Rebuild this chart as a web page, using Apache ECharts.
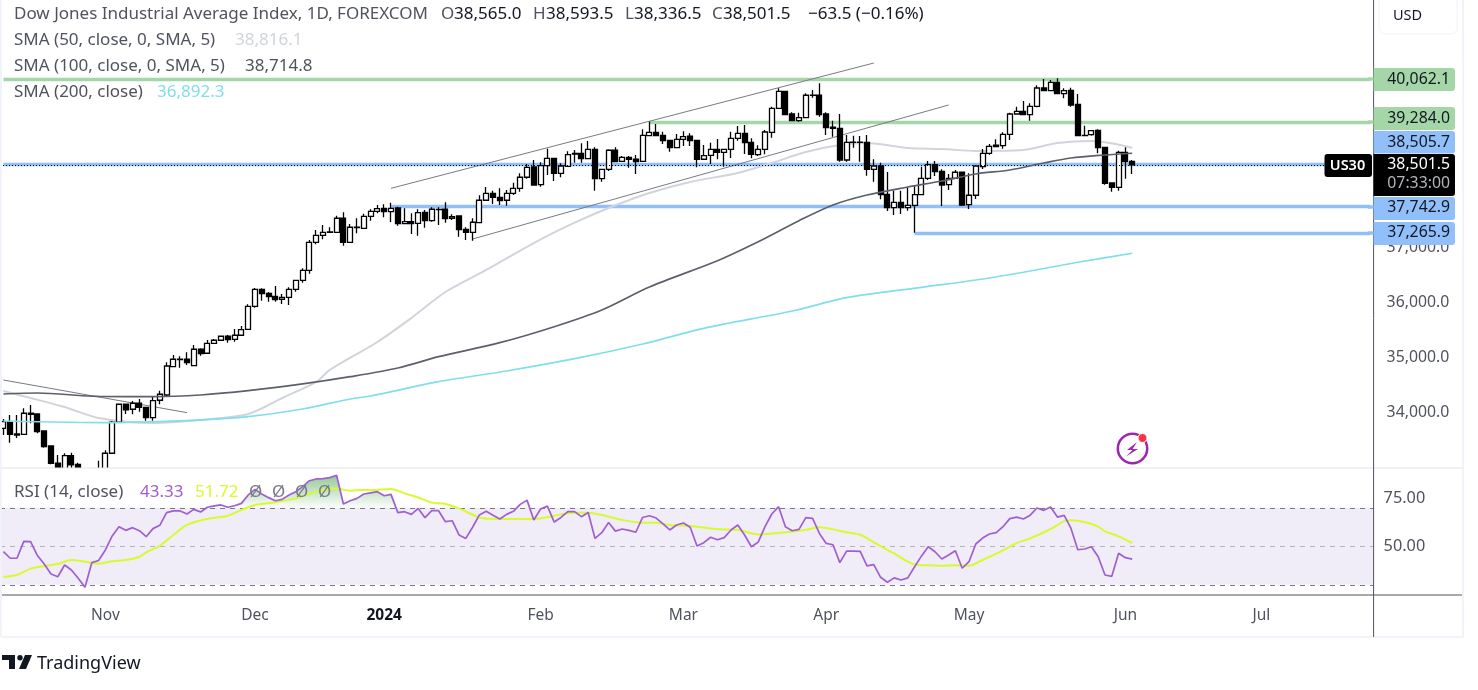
<!DOCTYPE html>
<html>
<head>
<meta charset="utf-8">
<title>Dow Jones Industrial Average Index</title>
<script src="https://cdn.jsdelivr.net/npm/echarts@6/dist/echarts.min.js"></script>
<style>
  html, body { margin: 0; padding: 0; background: #fff; }
  #chart { width: 1478px; height: 690px; }
</style>
</head>
<body>
<div id="chart"></div>
<script>
// daily candles (bars 8-15 sit partly behind the RSI pane)
const opens = [
  33703,33824,33599,33594,33977,33964,33654,33381,33066,32798,
  33204,33047,32900,32700,32920,32950,33248,33813,34141,34050,
  34159,34086,33897,34214,34310,34826,34957,34961,34844,35143,
  35070,35252,35307,35380,35325,35398,35507,35926,36236,36163,
  36108,36054,36090,36236,36400,36582,37092,37220,37274,37274,
  37530,37092,37362,37347,37566,37657,37712,37650,37717,37431,
  37468,37438,37639,37486,37690,37694,37530,37571,37329,37274,
  37449,37858,37985,37912,37858,37985,38076,38277,38464,38142,
  38488,38623,38349,38477,38714,38714,38616,38787,38251,38422,
  38769,38568,38641,38605,38568,39035,39096,39042,38951,38816,
  38969,39024,38951,38605,38677,38787,38732,38787,38987,39078,
  38914,38688,38787,39096,39534,39843,39430,39308,39362,39775,
  39775,39430,39188,39169,38592,38912,38916,38914,38422,38482,
  37967,37723,37821,37723,37766,37959,38258,38506,38386,38142,
  38258,38368,37777,37949,38470,38714,38860,38852,39060,39430,
  39479,39417,39570,39904,39854,40007,39800,39862,39607,39042,
  39053,39133,38823,38173,38094,38732,38565
];
const closes = [
  33824,33594,33581,33977,33959,33641,33368,33066,32798,33204,
  33035,32907,32700,32900,32960,33248,33813,34141,34037,34159,
  34086,33897,34206,34323,34838,34961,34965,34899,35143,35063,
  35252,35307,35380,35318,35398,35500,35926,36236,36156,36101,
  36046,36090,36236,36400,36582,37092,37220,37274,37280,37530,
  37092,37366,37370,37566,37657,37704,37650,37712,37431,37468,
  37431,37632,37486,37694,37686,37522,37559,37322,37274,37457,
  37858,37985,37912,37850,37985,38076,38277,38459,38136,38488,
  38623,38349,38482,38688,38701,38616,38787,38251,38422,38769,
  38561,38641,38605,38561,39042,39096,39035,38943,38816,38969,
  39016,38943,38605,38670,38787,38732,38787,38987,39078,38907,
  38696,38787,39102,39534,39843,39417,39308,39362,39771,39770,
  39417,39180,39169,38592,38914,38916,38912,38422,38482,37959,
  37723,37821,37723,37766,37959,38258,38506,38379,38136,38258,
  38368,37772,37949,38482,38714,38841,38834,39060,39430,39479,
  39417,39570,39904,39854,40007,39800,39854,39594,39035,39038,
  39126,38816,38167,38094,38732,38561,38501.5
];
const highs = [
  33873,33946,33946,34068,34128,33977,33654,33394,33217,33248,
  33259,33077,32950,32960,33113,33302,33836,34146,34152,34201,
  34237,34090,34279,34388,34906,35039,35017,35088,35221,35161,
  35312,35330,35385,35403,35513,35567,35963,36260,36254,36187,
  36296,36150,36272,36405,36618,37134,37316,37407,37366,37577,
  37639,37426,37530,37613,37694,37772,37785,37814,37741,37712,
  37621,37694,37681,37730,37730,37821,37602,37575,37366,37530,
  37949,38100,38032,38076,38045,38178,38349,38519,38592,38550,
  38798,38628,38532,38750,38774,38896,38938,38823,38426,38787,
  38823,38665,38665,38683,39151,39290,39248,39107,38955,39066,
  39115,39078,38955,38865,38907,38974,38790,39107,39211,39230,
  38987,38860,39138,39563,39898,39847,39461,39454,39807,39867,
  39989,39461,39308,39430,39047,39035,39029,39047,38605,38543,
  38373,38032,38032,38094,38118,38470,38574,38574,38422,38337,
  38410,38379,38349,38486,38792,38883,38969,39096,39454,39563,
  39667,39625,39953,40068,40049,40080,39898,39909,39794,39217,
  39138,39151,38827,38178,38761,38823,38593.5
];
const lows = [
  33581,33441,33527,33581,33794,33612,33350,33047,32700,32700,
  32980,32850,32600,32600,32800,32900,33240,33810,33964,33959,
  34006,33842,33842,34141,34279,34820,34807,34857,34840,35026,
  35060,35250,35305,35263,35281,35395,35505,35901,36028,36010,
  36010,35968,35950,36192,36356,36520,37056,37147,37265,37270,
  37030,37088,37256,37340,37486,37621,37548,37462,37395,37425,
  37243,37213,37358,37468,37407,37449,37499,37194,37134,37121,
  37445,37855,37790,37772,37759,37954,38014,38251,38124,38105,
  38319,38209,38277,38470,38543,38543,38612,38032,38196,38391,
  38556,38564,38451,38337,38564,39030,39030,38883,38743,38805,
  38847,38847,38459,38592,38519,38605,38470,38628,38943,38701,
  38623,38665,38696,38998,39530,39413,39304,39290,39358,39727,
  39381,39047,39016,38561,38561,38816,38561,38306,38196,37876,
  37663,37590,37608,37668,37266,37955,38227,38300,37754,38045,
  38254,37754,37699,37881,38428,38688,38830,38798,38956,39425,
  39406,39308,39552,39850,39843,39794,39716,39563,39030,39029,
  39035,38714,38142,38014,38032,38251,38336.5
];

// moving averages: bar index and value, read at the bends of each line
const sma50Bars = [0,4,9,14,22,29,36,41,46,48,55,60,65,71,78,84,89,95,101,108,113,118,123,127,133,138,143,150,155,160,166];
const sma50Values = [34383,34255,34091,33891,33800,33855,33964,34255,34547,34766,35276,35713,36187,36588,37079,37449,37717,37990,38191,38355,38537,38737,38865,38901,38810,38792,38756,38774,38901,38938,38816.1];
const sma100Bars = [0,5,14,22,29,36,44,51,58,64,73,81,88,95,105,111,117,122,127,133,138,143,148,153,157,162,166];
const sma100Values = [34328,34346,34283,34279,34310,34388,34511,34643,34802,35008,35263,35554,35859,36278,36757,37103,37486,37772,37954,38100,38209,38337,38410,38537,38628,38683,38714.8];
const sma200Bars = [0,16,29,36,44,51,54,64,74,84,94,103,116,124,135,143,150,158,166];
const sma200Values = [33836,33805,33855,33915,34055,34237,34292,34552,34747,34971,35239,35525,35840,36083,36272,36405,36546,36728,36892.3];

// RSI (14) per bar, and its moving average read at the bends
const rsiValues = [
  47.2,43.8,43.8,52.6,52.4,45.2,40.8,35.6,34.2,40.3,37.7,33.4,28.7,41.5,42.6,48.1,55.4,60.2,58.3,59.7,
  58.1,55,59.2,60.9,67.5,68.4,68.4,66.8,69.2,67.8,70.3,71,71.5,70.3,71.1,72.3,76.7,79.6,77.2,75.3,
  73.7,74.4,76.7,78.4,81,84.1,85,85.2,85.7,86.9,72,73.7,74.9,77.2,77.8,78.4,76.3,77,67.5,68,
  66.6,69.7,64.9,68.5,68.5,62.8,63.3,55.9,54.1,59.9,66.3,68.2,66.1,64.2,66.6,68.2,71.8,74,63.7,69.4,
  70.9,62.6,65,68,68,65.4,67.6,54.1,57.1,62.4,57.9,59,58.3,57.3,65,65.9,64.7,61.7,58.5,61.1,
  62.1,59.9,50.2,51.9,54.7,53.4,54.5,58.5,61.1,55.9,49.8,52.2,60.2,66.8,70.6,60.2,58.1,58.8,64.9,64.5,
  56.7,51.5,50.8,41.5,47.5,47.5,47.4,39.8,40.5,33.9,31.3,33.6,32.5,33.6,39.4,44.9,49.8,47.2,43.4,45.5,
  47.7,38.6,42,51.2,54.3,56.4,57.1,60.2,64.4,65.2,64.2,66.2,69.9,68.7,70.4,65.2,66.1,59.3,48.2,48.6,
  49.8,44.6,35.1,34.4,46.4,44.1,43.33
];
const rsiMaBars = [0,2,4,6,8,10,12,14,16,18,20,21,23,25,27,30,33,35,37,40,43,45,47,49,51,53,54,57,59,61,63,65,67,70,72,76,79,82,84,86,89,91,94,96,98,101,104,106,108,111,113,115,118,120,122,124,126,128,130,131,133,134,136,138,140,142,144,147,149,151,154,156,157,159,161,162,164,166];
const rsiMaValues = [34.1,35.1,38.4,39.8,40.8,42.9,42,41,42.2,42.9,44.6,46.9,50.3,55.9,61.1,64.2,65.9,68.9,71.5,72.9,74.9,77.2,79.3,80,78.9,79.3,79.2,79.8,77.5,75.4,72.7,72,69.7,65,64.3,64.2,64.5,66.6,67.5,67.5,65.4,63.7,62.3,62.3,61.1,60.5,59.3,58.8,58.5,56.2,56.6,57.3,58.6,59.9,58.8,57.3,56,52.1,48.1,46.3,42,40.6,40.1,39.9,40.1,39.9,42.9,47.9,51.7,54.1,59,63.1,63.5,62.6,60.2,57.8,55.2,51.72];

// horizontal levels and drawn trend lines
const greenLevels = [40062.1, 39284.0];
const greenStartBars = [0, 95];
const blueLevels = [38505.7, 37742.9, 37265.9];
const blueStartBars = [0, 57, 134];
const lastPrice = 38501.5;
const trendLines = [
  [57, 38076, 128, 40359],
  [69, 37152, 139, 39594],
  [0, 34583, 27, 33988]
];

// axis labels
const priceMin = 32979.6;
const priceMax = 41507;
const priceTicks = [34000, 35000, 36000, 37000];
const rsiTicks = [50, 75];
const barSlots = 202;
const monthBars = [15, 37, 56, 79, 100, 121, 142, 165, 185];
const monthNames = ['Nov', 'Dec', '2024', 'Feb', 'Mar', 'Apr', 'May', 'Jun', 'Jul'];

const categories = new Array(barSlots).fill('');
monthBars.forEach((b, i) => { categories[b] = monthNames[i]; });

const fmt = v => v.toLocaleString('en-US', {minimumFractionDigits: 1, maximumFractionDigits: 1});
const pairs = (bars, vals) => bars.map((b, i) => [b, vals[i]]);

const FONT = '"Noto Sans", sans-serif';
const GREY = '#50535e';
const GREEN = '#a5d6a7';
const BLUE = '#90bff9';
const RIGHT = 1373.6;
const PANE_H = 468;

const yOf = v => (priceMax - v) / (priceMax - priceMin) * PANE_H;

function levelItem(start, value, color) {
  return [
    {coord: [start, value], lineStyle: {color, width: 3.4, type: 'solid'}},
    {coord: [barSlots - 1, value]}
  ];
}

function txt(x, y, text, fill, size, extra) {
  return {
    type: 'text', z: 100, silent: true,
    style: Object.assign({x, y, text, fill, font: (size || 17) + 'px ' + FONT, verticalAlign: 'middle', align: 'left'}, extra || {})
  };
}

function box(y0, y1, color) {
  return {type: 'rect', z: 90, silent: true, shape: {x: RIGHT, y: y0, width: 81.4, height: y1 - y0, r: [0, 3, 3, 0]}, style: {fill: color}};
}

// closes the last few pixels between a level line and its tag
function stub(value, color) {
  const y = Math.round(yOf(value));
  return {type: 'line', z: 90, silent: true, shape: {x1: 1368, y1: y, x2: RIGHT, y2: y}, style: {stroke: color, lineWidth: 3.4}};
}

function rule(x1, y1, x2, y2, color, w) {
  return {type: 'line', z: 80, silent: true, shape: {x1, y1, x2, y2}, style: {stroke: color, lineWidth: w || 1}};
}

const tagSize = 15.8;
const tagRight = {align: 'right'};

const graphics = [
  // wicks that run below the price pane stop at its lower edge
  {type: 'rect', z: 6, silent: true, shape: {x: 0, y: PANE_H, width: RIGHT, height: 28}, style: {fill: '#fff'}},

  // frame and pane rules
  rule(1, 0, 1, 637, '#f0f3fa', 2),
  rule(2, 637, 1464, 637, '#f0f3fa', 2),
  rule(1463, 0, 1463, 637, '#f0f3fa', 2),
  rule(2, 468, 1462, 468, '#e0e3eb', 1),
  rule(2, 595, 1462, 595, GREY, 1),
  rule(RIGHT, 0, RIGHT, 637, GREY, 1),

  // USD button
  {type: 'rect', z: 85, silent: true, shape: {x: 1379, y: -3, width: 78, height: 37, r: 6}, style: {fill: '#fff', stroke: '#f0f3fa', lineWidth: 1}},
  txt(1393, 16, 'USD', '#131722', 14.5),

  // legend
  txt(14, 14, 'Dow Jones Industrial Average Index, 1D, FOREXCOM', GREY),
  txt(441, 14, 'O', GREY), txt(454, 14, '38,565.0', '#131722'),
  txt(533, 14, 'H', GREY), txt(546, 14, '38,593.5', '#131722'),
  txt(625, 14, 'L', GREY), txt(634, 14, '38,336.5', '#131722'),
  txt(712, 14, 'C', GREY), txt(723, 14, '38,501.5', '#131722'),
  txt(808, 14, '\u221263.5 (\u22120.16%)', '#131722'),
  txt(14, 40, 'SMA (50, close, 0, SMA, 5)', GREY), txt(235, 40, '38,816.1', '#d1d4dc'),
  txt(14, 66, 'SMA (100, close, 0, SMA, 5)', GREY), txt(245, 66, '38,714.8', GREY),
  txt(14, 92, 'SMA (200, close)', GREY), txt(157, 92, '36,892.3', '#80deea'),
  txt(14, 492, 'RSI (14, close)', GREY),
  txt(140, 492, '43.33', '#a05fd0'), txt(195, 492, '51.72', '#d7fb2d'),
  txt(249, 492, '\u00d8', '#787b86'), txt(272, 492, '\u00d8', '#787b86'), txt(295, 492, '\u00d8', '#787b86'), txt(318, 492, '\u00d8', '#787b86'),

  // price scale tags
  box(68, 91, GREEN), stub(greenLevels[0], GREEN), txt(1450, 79.5, fmt(greenLevels[0]), '#131722', tagSize, tagRight),
  box(107, 130, GREEN), stub(greenLevels[1], GREEN), txt(1450, 118.5, fmt(greenLevels[1]), '#131722', tagSize, tagRight),
  box(131, 153.5, BLUE), txt(1450, 142, fmt(blueLevels[0]), '#131722', tagSize, tagRight),
  box(154, 196, '#000'),
  txt(1450, 164, fmt(lastPrice), '#fff', tagSize, tagRight),
  txt(1450, 183, '07:33:00', '#b2b5be', tagSize, tagRight),
  box(197, 220, BLUE), stub(blueLevels[1], BLUE), txt(1450, 207.5, fmt(blueLevels[1]), '#131722', tagSize, tagRight),
  box(222, 245, BLUE), stub(blueLevels[2], BLUE), txt(1450, 232.5, fmt(blueLevels[2]), '#131722', tagSize, tagRight),
  {type: 'rect', z: 90, silent: true, shape: {x: 1324.5, y: 154, width: 47.5, height: 23, r: 3}, style: {fill: '#000'}},
  txt(1347.5, 166, 'US30', '#fff', 14.5, {align: 'center', font: '600 14.5px ' + FONT}),

  // lightning badge
  {type: 'circle', z: 90, silent: true, shape: {cx: 1132.5, cy: 448.5, r: 14.7}, style: {fill: 'none', stroke: '#9c27b0', lineWidth: 2.5}},
  {type: 'polygon', z: 90, silent: true, shape: {points: [[1137, 442], [1127, 450], [1132.5, 450], [1126, 456.5], [1138, 449], [1132.5, 449]]}, style: {fill: '#9c27b0'}},
  {type: 'circle', z: 91, silent: true, shape: {cx: 1142.5, cy: 438, r: 4.5}, style: {fill: '#f23645', stroke: '#fff', lineWidth: 1}},

  // logo
  {type: 'polygon', z: 90, silent: true, shape: {points: [[2, 655], [15, 655], [15, 669], [9, 669], [9, 660], [2, 660]]}, style: {fill: '#131722'}},
  {type: 'circle', z: 90, silent: true, shape: {cx: 20, cy: 657.7, r: 2.7}, style: {fill: '#131722'}},
  {type: 'polygon', z: 90, silent: true, shape: {points: [[25, 655], [32, 655], [26, 669], [19, 669]]}, style: {fill: '#131722'}},
  txt(37, 664, 'TradingView', '#131722', 18)
];

const chart = echarts.init(document.getElementById('chart'), null, {renderer: 'canvas'});
chart.setOption({
  animation: false,
  backgroundColor: '#fff',
  textStyle: {fontFamily: FONT},
  grid: [
    {left: 0, top: 0, width: RIGHT, height: PANE_H},
    {left: 0, top: PANE_H, width: RIGHT, height: 127}
  ],
  xAxis: [
    {type: 'category', gridIndex: 0, data: categories, show: false},
    {
      type: 'category', gridIndex: 1, data: categories,
      axisLine: {show: false}, axisTick: {show: false}, splitLine: {show: false},
      axisLabel: {
        interval: 0, margin: 13, fontSize: 15.5, color: GREY, fontFamily: FONT,
        formatter: v => (v === '2024' ? '{b|2024}' : v),
        rich: {b: {fontWeight: 700, fontSize: 15.5, color: '#131722', fontFamily: FONT}}
      }
    }
  ],
  yAxis: [
    {
      type: 'value', gridIndex: 0, position: 'right', min: priceMin, max: priceMax, scale: true,
      axisLine: {show: false}, axisTick: {show: false}, splitLine: {show: false},
      axisLabel: {customValues: priceTicks, margin: 13, fontSize: 15.8, color: GREY, fontFamily: FONT, align: 'left', formatter: v => fmt(v)}
    },
    {
      type: 'value', gridIndex: 1, position: 'right', min: 24.7, max: 90.7,
      axisLine: {show: false}, axisTick: {show: false}, splitLine: {show: false},
      axisLabel: {customValues: rsiTicks, margin: 10, fontSize: 16.3, color: GREY, fontFamily: FONT, align: 'left', formatter: v => v.toFixed(2)}
    }
  ],
  series: [
    {
      // levels and trend lines, kept under the candles
      type: 'line', xAxisIndex: 0, yAxisIndex: 0, data: [], z: 1,
      markLine: {
        silent: true, symbol: 'none', animation: false, z: 1, label: {show: false},
        data: [
          ...greenLevels.map((v, i) => levelItem(greenStartBars[i], v, GREEN)),
          ...blueLevels.map((v, i) => levelItem(blueStartBars[i], v, BLUE)),
          ...trendLines.map(t => [
            {coord: [t[0], t[1]], lineStyle: {color: '#787b86', width: 1, type: 'solid'}},
            {coord: [t[2], t[3]]}
          ])
        ]
      }
    },
    {
      type: 'candlestick', xAxisIndex: 0, yAxisIndex: 0, z: 3, barWidth: 5.5,
      data: opens.map((o, i) => [o, closes[i], lows[i], highs[i]]),
      itemStyle: {color: '#ffffff', color0: '#000000', borderColor: '#000000', borderColor0: '#000000', borderWidth: 1.3}
    },
    {
      type: 'line', xAxisIndex: 0, yAxisIndex: 0, z: 4, data: [],
      markLine: {
        silent: true, symbol: 'none', animation: false, z: 4, label: {show: false},
        data: [{yAxis: lastPrice, lineStyle: {color: '#000', width: 1, type: [1, 2]}}]
      }
    },
    {type: 'line', xAxisIndex: 0, yAxisIndex: 0, z: 2, smooth: 0.3, data: pairs(sma50Bars, sma50Values), showSymbol: false, lineStyle: {color: '#d1d4dc', width: 2}},
    {type: 'line', xAxisIndex: 0, yAxisIndex: 0, z: 4, smooth: 0.3, data: pairs(sma100Bars, sma100Values), showSymbol: false, lineStyle: {color: '#5d606b', width: 1.7}},
    {type: 'line', xAxisIndex: 0, yAxisIndex: 0, z: 4, smooth: 0.3, data: pairs(sma200Bars, sma200Values), showSymbol: false, lineStyle: {color: '#80deea', width: 1.7}},
    {
      // RSI band, overbought fill and lines
      type: 'line', xAxisIndex: 1, yAxisIndex: 1, z: 7, showSymbol: false,
      data: rsiValues.map(v => Math.max(v, 70)),
      lineStyle: {width: 0, opacity: 0},
      areaStyle: {
        origin: 70,
        color: new echarts.graphic.LinearGradient(0, 476, 0, 508, [
          {offset: 0, color: 'rgba(67,160,71,0.8)'},
          {offset: 1, color: 'rgba(67,160,71,0.02)'}
        ], true)
      },
      markArea: {silent: true, z: 1, itemStyle: {color: '#f0edf8'}, data: [[{yAxis: 30}, {yAxis: 70}]]},
      markLine: {
        silent: true, symbol: 'none', animation: false, z: 7, label: {show: false},
        data: [
          {yAxis: 70, lineStyle: {color: '#787b86', width: 1, type: [5, 5]}},
          {yAxis: 50, lineStyle: {color: '#b2b5be', width: 1, type: [5, 5]}},
          {yAxis: 30, lineStyle: {color: '#787b86', width: 1, type: [5, 5]}}
        ]
      }
    },
    {type: 'line', xAxisIndex: 1, yAxisIndex: 1, z: 8, smooth: 0.3, data: pairs(rsiMaBars, rsiMaValues), showSymbol: false, lineStyle: {color: '#d7fb2d', width: 2}},
    {type: 'line', xAxisIndex: 1, yAxisIndex: 1, z: 9, data: rsiValues, showSymbol: false, lineStyle: {color: '#a05fd0', width: 1.7}}
  ],
  graphic: {elements: graphics}
});
</script>
</body>
</html>
